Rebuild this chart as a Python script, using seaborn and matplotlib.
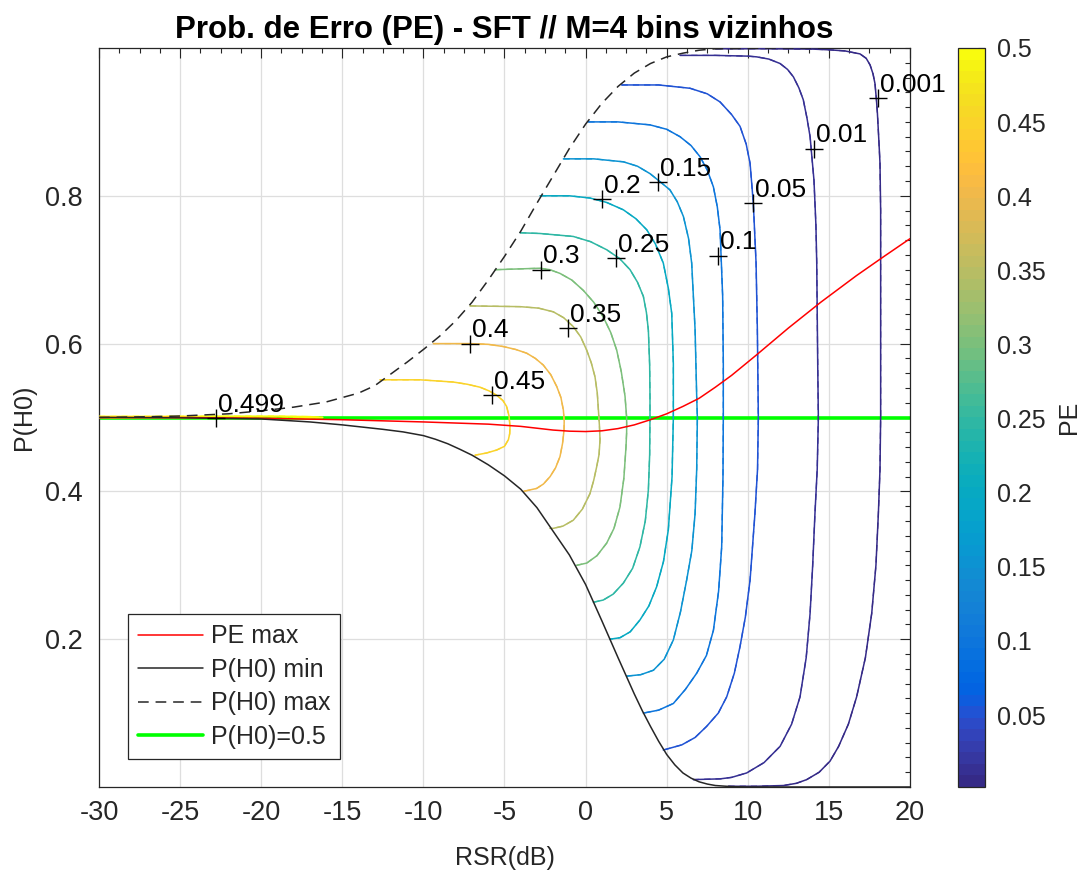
import matplotlib
matplotlib.use("Agg")
import numpy as np
import pandas as pd
import matplotlib.pyplot as plt
import seaborn as sns
from matplotlib.colors import ListedColormap, Normalize
from matplotlib.ticker import MultipleLocator, FixedLocator, FixedFormatter
import matplotlib.cm as cm

# ---------------- data ----------------
# boundary curves
pmax_x = [-30, -27, -25, -22, -20, -18, -16, -14, -13, -12, -11, -10, -9, -8, -7, -6, -5, -4, -3, -2, -1,
          0, 1, 2, 3, 4, 5, 6, 7, 8, 12, 20]
pmax_y = [0.500, 0.501, 0.502, 0.505, 0.509, 0.514, 0.521, 0.533, 0.543, 0.559, 0.575, 0.592, 0.610,
          0.631, 0.656, 0.686, 0.718, 0.752, 0.790, 0.827, 0.864, 0.897, 0.925, 0.948, 0.966, 0.979,
          0.988, 0.993, 0.997, 0.999, 1.0, 1.0]
pmin_x = [-30, -25, -20, -17, -15, -12.5, -11.25, -10, -9.25, -8.5, -7.75, -7, -6, -5, -4, -3, -2, -1, 0,
          1, 2, 3, 3.5, 4, 4.5, 5, 5.5, 6, 6.5, 7, 7.5, 8, 9, 10, 20]
pmin_y = [0.500, 0.4995, 0.498, 0.494, 0.490, 0.484, 0.4805, 0.4755, 0.4705, 0.4645, 0.457, 0.449,
          0.436, 0.421, 0.403, 0.378, 0.346, 0.314, 0.274, 0.225, 0.175, 0.126, 0.103, 0.082, 0.062,
          0.044, 0.030, 0.019, 0.012, 0.007, 0.004, 0.002, 0.0005, 0.0, 0.0]
pemax_x = [-30, -25, -20, -15, -10, -6, -4, -2, -1, 0, 1, 2, 3, 4, 5, 6, 7, 8, 9, 10.5, 12.5, 14.5,
           16.7, 18.4, 20]
pemax_y = [0.500, 0.500, 0.499, 0.497, 0.494, 0.491, 0.488, 0.483, 0.4815, 0.481, 0.482, 0.485, 0.490,
           0.497, 0.505, 0.515, 0.526, 0.541, 0.557, 0.584, 0.621, 0.656, 0.692, 0.718, 0.742]
half_x = [-30, 20]
half_y = [0.5, 0.5]

# contour levels of PE
levels = [0.001, 0.01, 0.05, 0.1, 0.15, 0.2, 0.25, 0.3, 0.35, 0.4, 0.45, 0.499]
level_labels = ["0.001", "0.01", "0.05", "0.1", "0.15", "0.2", "0.25", "0.3", "0.35", "0.4", "0.45", "0.499"]

c0001_x = [8.0, 11.0, 14.0, 15.07, 16.0, 16.92, 17.3, 17.54, 17.72, 17.84, 17.93, 17.99, 18.08, 18.15,
           18.19, 18.19, 18.19, 18.19, 18.15, 18.05, 17.9, 17.64, 17.25, 16.71, 16.2, 15.6, 15.07, 14.4,
           13.63, 13.0, 12.2, 10.5, 8.8]
c0001_y = [0.999, 0.999, 0.9985, 0.9975, 0.996, 0.992, 0.986, 0.977, 0.965, 0.952, 0.930, 0.912, 0.875,
           0.844, 0.78, 0.709, 0.573, 0.50, 0.43, 0.370, 0.30, 0.235, 0.175, 0.122, 0.085, 0.055, 0.035,
           0.020, 0.010, 0.005, 0.002, 0.001, 0.001]
c001_x = [5.82, 8.0, 10.0, 10.55, 11.3, 11.99, 12.45, 12.81, 13.15, 13.42, 13.65, 13.84, 14.08, 14.2,
          14.25, 14.31, 14.35, 14.28, 14.14, 14.0, 13.84, 13.6, 13.22, 12.7, 11.99, 11.0, 9.93, 9.0, 8.29,
          6.64]
c001_y = [0.99, 0.99, 0.989, 0.988, 0.985, 0.979, 0.971, 0.961, 0.946, 0.930, 0.905, 0.880, 0.821, 0.76,
          0.709, 0.573, 0.50, 0.43, 0.370, 0.30, 0.235, 0.175, 0.122, 0.085, 0.055, 0.033, 0.019, 0.013,
          0.011, 0.010]
c005_x = [2.22, 4.5, 6.44, 7.5, 8.29, 9.0, 9.52, 9.9, 10.14, 10.34, 10.51, 10.59, 10.65, 10.6, 10.44,
          10.14, 9.85, 9.52, 9.17, 8.70, 8.18, 7.46, 6.75, 5.93, 4.79]
c005_y = [0.95, 0.95, 0.9455, 0.938, 0.927, 0.910, 0.894, 0.870, 0.844, 0.790, 0.709, 0.618, 0.50, 0.43,
          0.370, 0.280, 0.230, 0.190, 0.154, 0.122, 0.100, 0.082, 0.067, 0.057, 0.050]
c01_x = [0.17, 2.0, 3.97, 5.0, 5.82, 6.5, 7.05, 7.5, 7.88, 8.12, 8.29, 8.45, 8.49, 8.49, 8.47, 8.39, 8.2,
         7.88, 7.45, 6.85, 6.15, 5.41, 4.5, 3.56]
c01_y = [0.90, 0.90, 0.896, 0.890, 0.880, 0.868, 0.853, 0.835, 0.812, 0.785, 0.754, 0.664, 0.573, 0.50,
         0.42, 0.325, 0.265, 0.212, 0.178, 0.154, 0.132, 0.113, 0.104, 0.100]
c015_x = [-1.37, 0.5, 2.33, 3.2, 3.97, 4.65, 5.20, 5.65, 6.03, 6.35, 6.54, 6.75, 6.85, 6.89, 6.85, 6.75,
          6.55, 6.23, 5.85, 5.41, 4.85, 4.18, 3.4, 2.53]
c015_y = [0.85, 0.85, 0.846, 0.840, 0.830, 0.818, 0.808, 0.792, 0.772, 0.742, 0.709, 0.619, 0.528, 0.50,
          0.43, 0.370, 0.320, 0.280, 0.237, 0.199, 0.173, 0.158, 0.152, 0.150]
c02_x = [-2.81, -1.0, 0.27, 1.3, 2.33, 3.1, 3.77, 4.3, 4.79, 5.1, 5.31, 5.41, 5.41, 5.33, 5.10, 4.8, 4.38,
         3.9, 3.35, 2.75, 2.12, 1.50]
c02_y = [0.80, 0.80, 0.797, 0.791, 0.781, 0.769, 0.754, 0.735, 0.709, 0.675, 0.641, 0.573, 0.50, 0.42,
         0.348, 0.305, 0.271, 0.245, 0.226, 0.210, 0.202, 0.200]
c025_x = [-4.04, -2.81, -0.76, 0.3, 1.30, 2.1, 2.74, 3.2, 3.56, 3.75, 3.87, 3.95, 3.97, 3.97, 3.95, 3.87,
          3.68, 3.35, 2.9, 2.33, 1.7, 1.09, 0.48]
c025_y = [0.75, 0.749, 0.745, 0.738, 0.727, 0.715, 0.700, 0.683, 0.664, 0.642, 0.618, 0.57, 0.528, 0.50,
          0.45, 0.402, 0.36, 0.325, 0.296, 0.276, 0.261, 0.253, 0.250]
c03_x = [-5.58, -2.81, -2.2, -1.58, -0.85, -0.14, 0.5, 1.09, 1.55, 1.92, 2.2, 2.43, 2.53, 2.53, 2.49,
         2.36, 2.12, 1.75, 1.30, 0.7, 0.07, -0.55]
c03_y = [0.70, 0.702, 0.700, 0.695, 0.686, 0.672, 0.656, 0.636, 0.615, 0.591, 0.562, 0.529, 0.50, 0.48,
         0.460, 0.418, 0.379, 0.350, 0.330, 0.313, 0.303, 0.300]
c035_x = [-7.13, -4.04, -2.9, -1.99, -1.35, -0.76, -0.3, 0.07, 0.35, 0.58, 0.72, 0.79, 0.85, 0.89, 0.83,
          0.68, 0.5, 0.27, -0.2, -0.76, -1.4, -1.99, -2.2]
c035_y = [0.651, 0.650, 0.648, 0.643, 0.635, 0.623, 0.609, 0.591, 0.574, 0.555, 0.533, 0.510, 0.49,
          0.470, 0.450, 0.433, 0.415, 0.397, 0.376, 0.361, 0.353, 0.350, 0.350]
c04_x = [-9.39, -7.13, -6.0, -5.07, -4.3, -3.63, -3.1, -2.61, -2.15, -1.78, -1.52, -1.37, -1.32, -1.33,
         -1.42, -1.58, -1.85, -2.19, -2.6, -3.02, -3.84]
c04_y = [0.600, 0.600, 0.599, 0.596, 0.592, 0.587, 0.580, 0.571, 0.558, 0.542, 0.527, 0.510, 0.495,
         0.483, 0.465, 0.447, 0.432, 0.420, 0.410, 0.404, 0.400]
c045_x = [-12.68, -10.21, -8.16, -7.3, -6.51, -5.95, -5.48, -5.1, -4.87, -4.72, -4.66, -4.68, -4.76, -5.0,
          -5.48, -6.1, -6.82]
c045_y = [0.551, 0.551, 0.548, 0.545, 0.541, 0.536, 0.530, 0.523, 0.515, 0.502, 0.488, 0.478, 0.470,
          0.461, 0.456, 0.452, 0.449]
c0499_x = [-30, -26, -22, -19, -17, -16.2, -17, -19, -22, -26, -30]
c0499_y = [0.5015, 0.5015, 0.5018, 0.5018, 0.5012, 0.500, 0.4993, 0.499, 0.4988, 0.499, 0.499]

contour_x = [c0001_x, c001_x, c005_x, c01_x, c015_x, c02_x, c025_x, c03_x, c035_x, c04_x, c045_x, c0499_x]
contour_y = [c0001_y, c001_y, c005_y, c01_y, c015_y, c02_y, c025_y, c03_y, c035_y, c04_y, c045_y, c0499_y]

# label anchor points (the "+" marks)
lab_x = [18.05, 14.08, 10.34, 8.18, 4.48, 0.99, 1.87, -2.75, -1.06, -7.13, -5.79, -22.79]
lab_y = [0.932, 0.864, 0.790, 0.719, 0.819, 0.795, 0.716, 0.700, 0.621, 0.600, 0.530, 0.499]

x_ticks = [-30, -25, -20, -15, -10, -5, 0, 5, 10, 15, 20]
y_ticks = [0.2, 0.4, 0.6, 0.8]
cb_ticks = [0.05, 0.1, 0.15, 0.2, 0.25, 0.3, 0.35, 0.4, 0.45, 0.5]
cb_tick_labels = ["0.05", "0.1", "0.15", "0.2", "0.25", "0.3", "0.35", "0.4", "0.45", "0.5"]

# MATLAB parula (64)
parula = [
    [0.2081, 0.1663, 0.5292], [0.2116, 0.1898, 0.5777], [0.2123, 0.2138, 0.6270], [0.2081, 0.2386, 0.6771],
    [0.1959, 0.2645, 0.7279], [0.1707, 0.2919, 0.7792], [0.1253, 0.3242, 0.8303], [0.0591, 0.3598, 0.8683],
    [0.0117, 0.3875, 0.8820], [0.0060, 0.4086, 0.8828], [0.0165, 0.4266, 0.8786], [0.0329, 0.4430, 0.8720],
    [0.0498, 0.4586, 0.8641], [0.0629, 0.4737, 0.8554], [0.0723, 0.4887, 0.8467], [0.0779, 0.5040, 0.8384],
    [0.0793, 0.5200, 0.8312], [0.0749, 0.5375, 0.8263], [0.0641, 0.5570, 0.8240], [0.0488, 0.5772, 0.8228],
    [0.0343, 0.5966, 0.8199], [0.0265, 0.6137, 0.8135], [0.0239, 0.6287, 0.8038], [0.0231, 0.6418, 0.7913],
    [0.0228, 0.6535, 0.7768], [0.0267, 0.6642, 0.7607], [0.0384, 0.6743, 0.7436], [0.0590, 0.6838, 0.7254],
    [0.0843, 0.6928, 0.7062], [0.1133, 0.7015, 0.6859], [0.1453, 0.7098, 0.6646], [0.1801, 0.7177, 0.6424],
    [0.2178, 0.7250, 0.6193], [0.2586, 0.7317, 0.5954], [0.3022, 0.7376, 0.5712], [0.3482, 0.7424, 0.5473],
    [0.3953, 0.7459, 0.5244], [0.4420, 0.7481, 0.5033], [0.4871, 0.7491, 0.4840], [0.5300, 0.7491, 0.4661],
    [0.5709, 0.7485, 0.4494], [0.6099, 0.7473, 0.4337], [0.6473, 0.7456, 0.4188], [0.6834, 0.7435, 0.4044],
    [0.7184, 0.7411, 0.3905], [0.7525, 0.7384, 0.3768], [0.7858, 0.7356, 0.3633], [0.8185, 0.7327, 0.3498],
    [0.8507, 0.7299, 0.3360], [0.8824, 0.7274, 0.3217], [0.9139, 0.7258, 0.3063], [0.9450, 0.7261, 0.2886],
    [0.9739, 0.7314, 0.2666], [0.9938, 0.7455, 0.2403], [0.9990, 0.7653, 0.2164], [0.9955, 0.7861, 0.1967],
    [0.9880, 0.8066, 0.1794], [0.9789, 0.8271, 0.1633], [0.9697, 0.8481, 0.1475], [0.9626, 0.8705, 0.1309],
    [0.9589, 0.8949, 0.1132], [0.9598, 0.9218, 0.0948], [0.9661, 0.9514, 0.0755], [0.9763, 0.9831, 0.0538],
]

# ---------------- style ----------------
sns.set_theme(style="white")
plt.rcParams['font.family'] = ['Liberation Sans', 'DejaVu Sans']
plt.rcParams['axes.unicode_minus'] = False
dark = '#262626'

cmap = ListedColormap(parula, name='parula')
norm = Normalize(vmin=0.0015, vmax=0.5)

W, H = 1092, 877
fig = plt.figure(figsize=(W / 100, H / 100), dpi=100)
ax = fig.add_axes([99 / W, 1 - 787 / H, (910 - 99) / W, (787 - 48) / H])
cax = fig.add_axes([958 / W, 1 - 787 / H, 27 / W, (787 - 48) / H])

# green P(H0)=0.5 line (underneath)
sns.lineplot(x=half_x, y=half_y, ax=ax, color=(0, 1, 0), lw=2.6, sort=False, estimator=None, zorder=2)
h_half = ax.lines[-1]

# contours (theoretical solid + simulated dashed overlay)
for lev, xs, ys in zip(levels, contour_x, contour_y):
    col = cmap(norm(lev))
    sns.lineplot(x=xs, y=ys, ax=ax, color=col, lw=1.1, sort=False, estimator=None, zorder=3)
    sns.lineplot(x=xs, y=ys, ax=ax, color=col, lw=0.9, sort=False, estimator=None, zorder=3,
                 linestyle=(0, (5, 4)))

# boundaries
sns.lineplot(x=pemax_x, y=pemax_y, ax=ax, color='red', lw=1.1, sort=False, estimator=None, zorder=4)
h_pe = ax.lines[-1]
sns.lineplot(x=pmin_x, y=pmin_y, ax=ax, color='#262626', lw=1.1, sort=False, estimator=None, zorder=4)
h_min = ax.lines[-1]
sns.lineplot(x=pmax_x, y=pmax_y, ax=ax, color='#262626', lw=1.1, sort=False, estimator=None, zorder=4,
             linestyle=(0, (7, 4.5)))
h_max = ax.lines[-1]

# contour labels
for lx, ly, txt in zip(lab_x, lab_y, level_labels):
    ax.plot(lx, ly, marker='+', color='black', markersize=13, markeredgewidth=1.0, zorder=6)
    ax.annotate(txt, (lx, ly), xytext=(1.5, 4.5), textcoords='offset points', ha='left', va='baseline',
                fontsize=19, color='black', zorder=6)

ax.set_xlim(-30, 20)
ax.set_ylim(0.0, 1.0)
ax.xaxis.set_major_locator(FixedLocator(x_ticks))
ax.xaxis.set_major_formatter(FixedFormatter([str(t) for t in x_ticks]))
ax.yaxis.set_major_locator(FixedLocator(y_ticks))
ax.yaxis.set_major_formatter(FixedFormatter([f"{t:g}" for t in y_ticks]))
ax.xaxis.set_minor_locator(MultipleLocator(1.25))
ax.yaxis.set_minor_locator(MultipleLocator(0.02))
ax.tick_params(which='both', direction='in', top=True, right=True, colors=dark, width=0.8)
ax.tick_params(which='major', length=7, labelsize=19.5)
ax.tick_params(axis='x', which='major', pad=9)
ax.tick_params(axis='y', which='major', pad=12)
ax.tick_params(which='minor', length=3.5)
ax.grid(True, which='major', color='#dedede', lw=0.9)
for s in ax.spines.values():
    s.set_color(dark)
    s.set_linewidth(0.9)

ax.set_title("Prob. de Erro (PE) - SFT // M=4 bins vizinhos", fontsize=22.5, fontweight='bold',
             color='black', pad=7)
ax.set_xlabel("RSR(dB)", fontsize=18, color=dark, labelpad=15)
ax.set_ylabel("P(H0)", fontsize=18, color=dark, labelpad=6)

leg = ax.legend(handles=[h_pe, h_min, h_max, h_half],
                labels=["PE max", "P(H0) min", "P(H0) max", "P(H0)=0.5"],
                loc='lower left', bbox_to_anchor=(0.036, 0.038), fontsize=18,
                handlelength=2.6, handletextpad=0.3, labelspacing=0.38, borderpad=0.4,
                frameon=True, fancybox=False, framealpha=1, edgecolor=dark, borderaxespad=0)
leg.get_frame().set_linewidth(0.9)

# colorbar
sm = cm.ScalarMappable(norm=norm, cmap=cmap)
cb = fig.colorbar(sm, cax=cax)
cb.set_ticks(cb_ticks)
cb.set_ticklabels(cb_tick_labels)
cax.tick_params(direction='in', length=5, width=0.8, colors=dark, labelsize=18, pad=9)
cb.outline.set_edgecolor(dark)
cb.outline.set_linewidth(0.9)
cb.set_label("PE", fontsize=18, color=dark, labelpad=8)

fig.savefig("out.png", dpi=100, facecolor='white')
